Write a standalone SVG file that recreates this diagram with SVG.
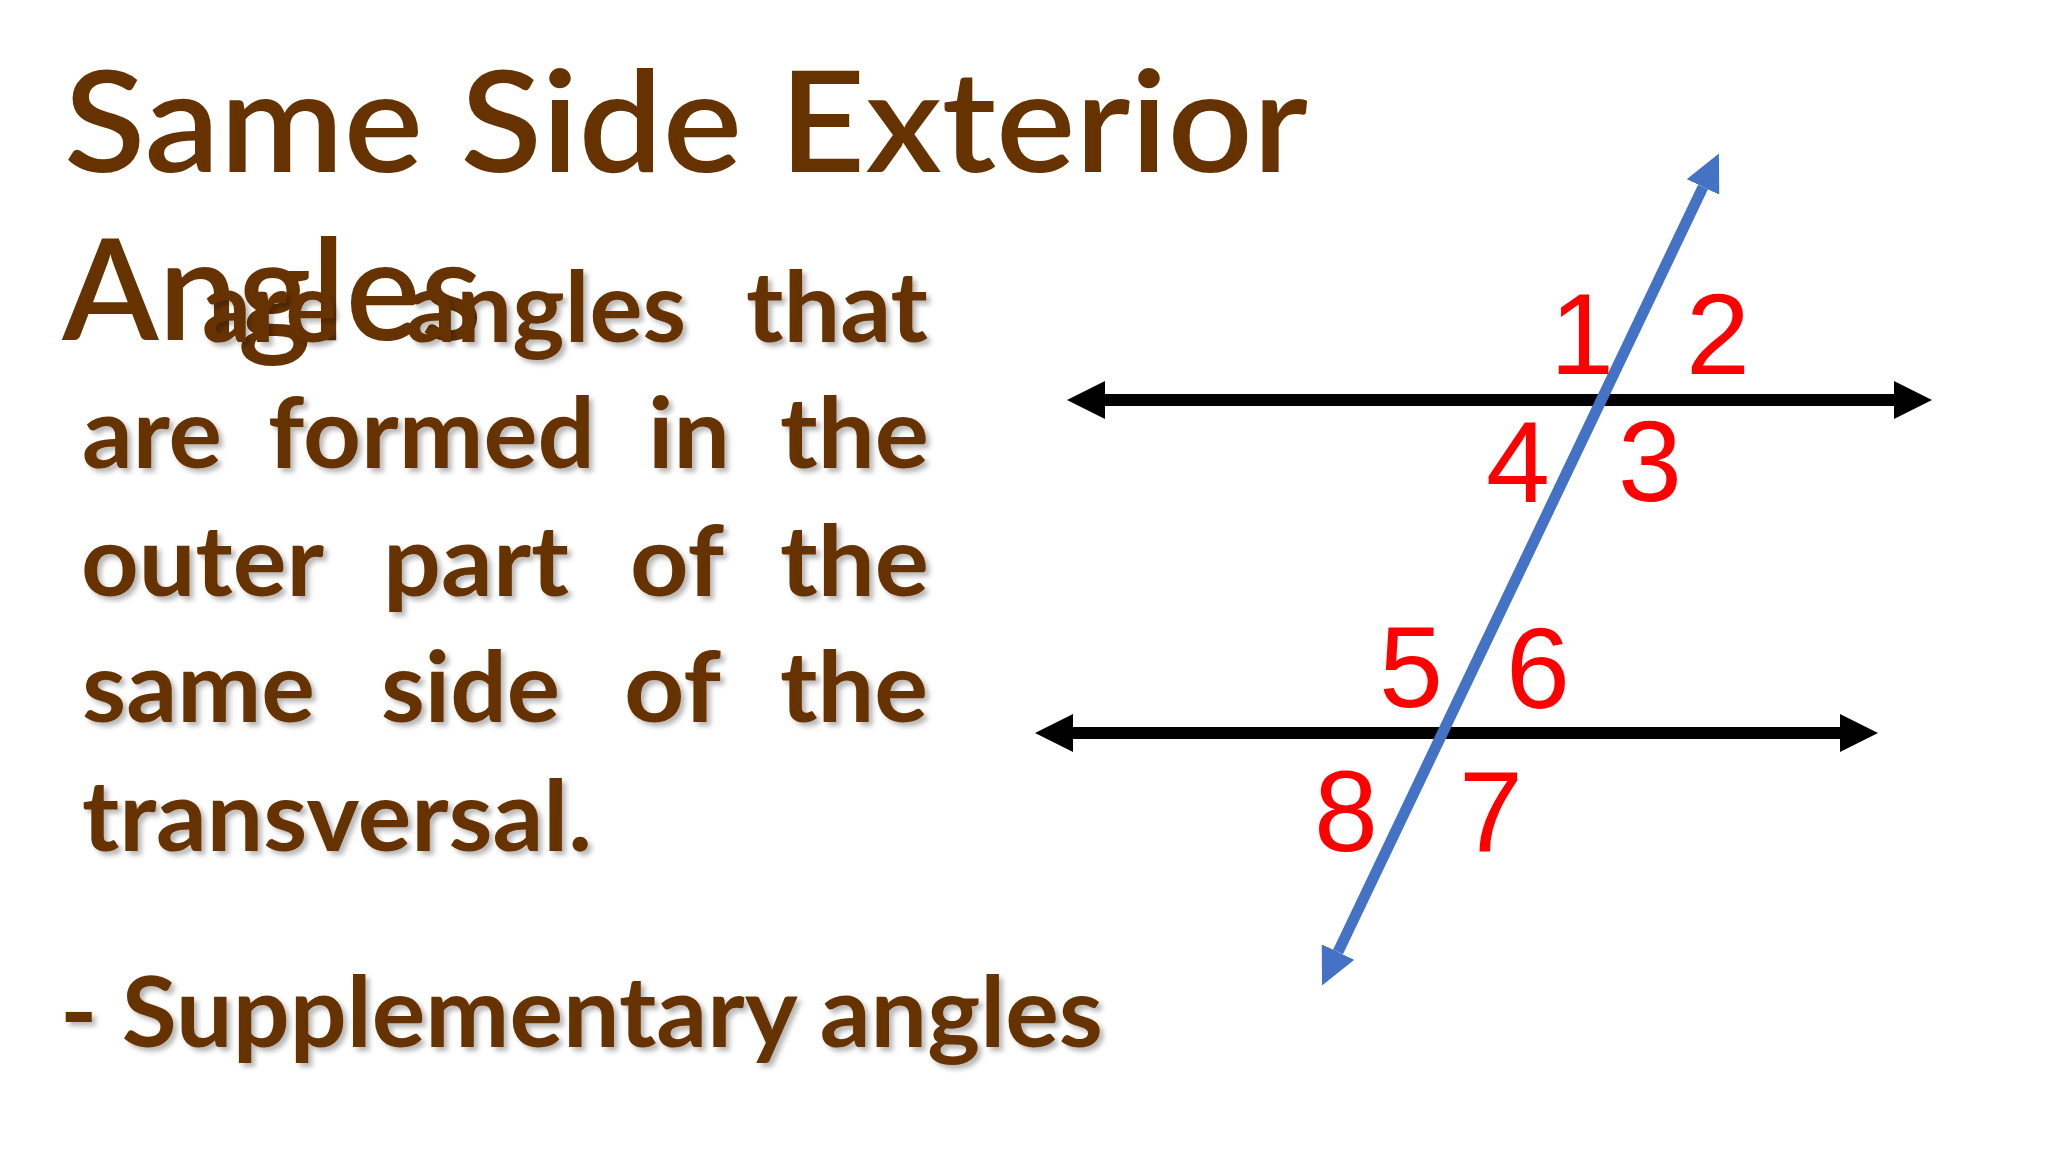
<svg xmlns="http://www.w3.org/2000/svg" width="2048" height="1152" viewBox="0 0 2048 1152">
<defs>
<style>
.title{font-family:Lato,"Open Sans","Liberation Sans",sans-serif;font-size:140px;font-weight:600;fill:#663300}
.body{font-family:Lato,"Open Sans","Liberation Sans",sans-serif;font-size:98px;font-weight:700;fill:#663300;filter:url(#sh)}
.num{font-family:"Liberation Sans",Arial,sans-serif;font-size:115px;fill:#FF0000;text-anchor:middle}
.blk{stroke:#000;stroke-width:12;fill:none;marker-start:url(#hb);marker-end:url(#hb)}
.blu{stroke:#4472C4;stroke-width:11;fill:none;marker-start:url(#hu);marker-end:url(#hu)}
</style>
<filter id="sh" x="-10%" y="-20%" width="130%" height="150%">
<feDropShadow dx="4" dy="4" stdDeviation="2.5" flood-color="#000" flood-opacity="0.28"/>
</filter>
<marker id="hb" markerUnits="userSpaceOnUse" viewBox="0 0 38 38" markerWidth="38" markerHeight="38" refX="0" refY="19" orient="auto-start-reverse">
<path d="M0,0 L38,19 L0,38 Z" fill="#000"/>
</marker>
<marker id="hu" markerUnits="userSpaceOnUse" viewBox="0 0 37 36" markerWidth="37" markerHeight="36" refX="0" refY="18" orient="auto-start-reverse">
<path d="M0,0 L37,18 L0,36 Z" fill="#4472C4"/>
</marker>
</defs>
<rect width="2048" height="1152" fill="#fff"/>
<g id="title">
<text class="title" x="64" y="172" textLength="1244" lengthAdjust="spacingAndGlyphs">Same Side Exterior</text>
<text class="title" x="62" y="340" textLength="420" lengthAdjust="spacingAndGlyphs">Angles</text>
</g>
<g id="definition">
<text class="body" y="342"><tspan x="202" textLength="135" lengthAdjust="spacingAndGlyphs">are</tspan></text>
<text class="body" y="342"><tspan x="406" textLength="280" lengthAdjust="spacingAndGlyphs">angles</tspan></text>
<text class="body" y="342"><tspan x="746" textLength="182" lengthAdjust="spacingAndGlyphs">that</tspan></text>
<text class="body" y="468"><tspan x="82" textLength="140" lengthAdjust="spacingAndGlyphs">are</tspan></text>
<text class="body" y="468"><tspan x="268" textLength="327" lengthAdjust="spacingAndGlyphs">formed</tspan></text>
<text class="body" y="468"><tspan x="648" textLength="82" lengthAdjust="spacingAndGlyphs">in</tspan></text>
<text class="body" y="468"><tspan x="780" textLength="149" lengthAdjust="spacingAndGlyphs">the</tspan></text>
<text class="body" y="596"><tspan x="81" textLength="243" lengthAdjust="spacingAndGlyphs">outer</tspan></text>
<text class="body" y="596"><tspan x="383" textLength="186" lengthAdjust="spacingAndGlyphs">part</tspan></text>
<text class="body" y="596"><tspan x="630" textLength="94" lengthAdjust="spacingAndGlyphs">of</tspan></text>
<text class="body" y="596"><tspan x="780" textLength="149" lengthAdjust="spacingAndGlyphs">the</tspan></text>
<text class="body" y="722"><tspan x="82" textLength="233" lengthAdjust="spacingAndGlyphs">same</tspan></text>
<text class="body" y="722"><tspan x="381" textLength="179" lengthAdjust="spacingAndGlyphs">side</tspan></text>
<text class="body" y="722"><tspan x="624" textLength="97" lengthAdjust="spacingAndGlyphs">of</tspan></text>
<text class="body" y="722"><tspan x="780" textLength="148" lengthAdjust="spacingAndGlyphs">the</tspan></text>
<text class="body" y="851"><tspan x="82" textLength="510" lengthAdjust="spacingAndGlyphs">transversal.</tspan></text>
</g>
<g id="supplementary">
<text class="body" x="60" y="1047" textLength="1043" lengthAdjust="spacingAndGlyphs">- Supplementary angles</text>
</g>
<g id="connectors">
<line class="blk" x1="1105" y1="400" x2="1894" y2="400"/>
<line class="blk" x1="1073" y1="733" x2="1840" y2="733"/>
<line class="blu" x1="1338" y1="952" x2="1703" y2="187"/>
</g>
<g id="labels">
<text class="num" x="1582" y="374">1</text>
<text class="num" x="1718" y="374">2</text>
<text class="num" x="1518" y="502">4</text>
<text class="num" x="1650" y="501">3</text>
<text class="num" x="1411" y="707">5</text>
<text class="num" x="1538" y="708">6</text>
<text class="num" x="1346" y="851">8</text>
<text class="num" x="1491" y="852">7</text>
</g>
</svg>
